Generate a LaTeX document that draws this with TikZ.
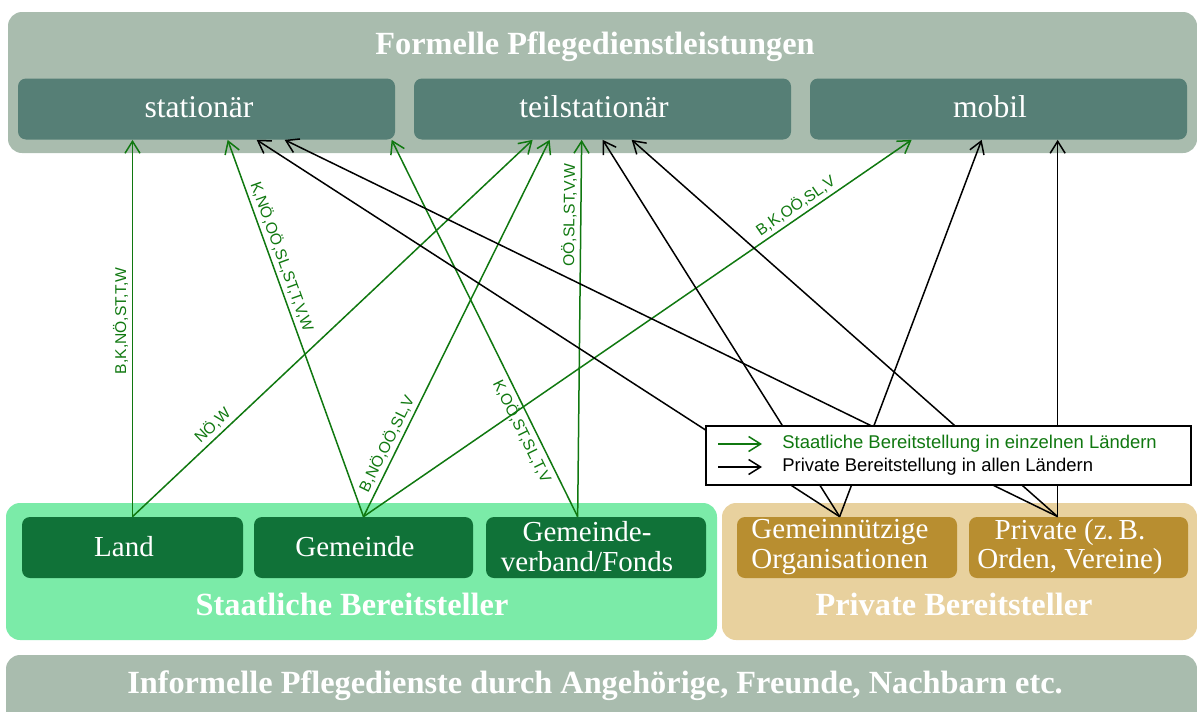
\documentclass[tikz,border=0pt]{standalone}
\usepackage{fontspec}
\setmainfont{Liberation Serif}
\newfontfamily\labelfont{Liberation Sans}
\usetikzlibrary{arrows.meta,calc}
\definecolor{formgrey}{RGB}{169,188,174}
\definecolor{formteal}{RGB}{86,127,118}
\definecolor{staatbg}{RGB}{123,235,168}
\definecolor{staatbox}{RGB}{16,114,56}
\definecolor{privbg}{RGB}{232,209,158}
\definecolor{privbox}{RGB}{184,142,48}
\definecolor{pgreen}{RGB}{16,120,16}
\newlength\pxu
\setlength\pxu{0.2mm}
\tikzset{
  groupbox/.style={rounded corners=14\pxu, inner sep=0pt},
  unitbox/.style={rounded corners=8\pxu, inner sep=0pt, minimum height=61\pxu},
  unittext/.style={text=white, inner sep=0pt, align=center, font=\fontsize{16.5}{17}\selectfont},
  toptext/.style={text=white, inner sep=0pt, font=\fontsize{18}{20}\selectfont},
  grouptitle/.style={text=white, inner sep=0pt, font=\fontsize{18.4}{20}\selectfont\bfseries},
  greenarrow/.style={-{Straight Barb[length=2.4mm,width=3mm]}, draw=pgreen, line width=0.3mm},
  blackarrow/.style={-{Straight Barb[length=2.4mm,width=3mm]}, draw=black, line width=0.3mm},
  arrowlabel/.style={text=pgreen, sloped, inner sep=2pt, font=\labelfont\fontsize{8.9}{9}\selectfont},
  legendtext/.style={inner sep=0pt, anchor=west, font=\labelfont\fontsize{10.5}{12}\selectfont}
}
\begin{document}
\begin{tikzpicture}[x=0.2mm, y=-0.2mm]
\useasboundingbox (0,0) rectangle (1197,711);
\clip (0,0) rectangle (1197,711);

\node[groupbox, fill=formgrey, minimum width=1189\pxu, minimum height=141\pxu] (formell) at (602.5,82.5) {};
\node[grouptitle] (formelltitle) at (595,47) {Formelle Pflegedienstleistungen};
\node[unitbox, fill=formteal, minimum width=377\pxu] (stat) at (206.5,109) {};
\node[unitbox, fill=formteal, minimum width=377\pxu] (teil) at (602.5,109) {};
\node[unitbox, fill=formteal, minimum width=377\pxu] (mobil) at (998.5,109) {};
\node[toptext] (stattext) at (199,107) {stationär};
\node[toptext] (teiltext) at (594,107) {teilstationär};
\node[toptext] (mobiltext) at (990,107) {mobil};

\node[groupbox, fill=staatbg, minimum width=711\pxu, minimum height=137\pxu] (staat) at (361.5,571.5) {};
\node[grouptitle] (staattitle) at (352,604) {Staatliche Bereitsteller};
\node[unitbox, fill=staatbox, minimum width=221\pxu] (land) at (132.5,547.5) {};
\node[unitbox, fill=staatbox, minimum width=219\pxu] (gemeinde) at (363.5,547.5) {};
\node[unitbox, fill=staatbox, minimum width=220\pxu] (verband) at (596,547.5) {};
\node[unittext] (landtext) at (124,547) {Land};
\node[unittext] (gemeindetext) at (355,547) {Gemeinde};
\node[unittext] (verbandtext) at (587,547) {Gemeinde-\\verband/Fonds};

\node[groupbox, fill=privbg, minimum width=475\pxu, minimum height=137\pxu] (privat) at (959.5,571.5) {};
\node[grouptitle] (privattitle) at (954,604) {Private Bereitsteller};
\node[unitbox, fill=privbox, minimum width=220\pxu] (gemn) at (847,547.5) {};
\node[unitbox, fill=privbox, minimum width=219\pxu] (orden) at (1078.5,547.5) {};
\node[unittext, align=left] (gemntext) at (840,547) {Gemeinnützige\\Organisationen};
\node[unittext] (ordentext) at (1070,547) {Private (z.\,B.\\Orden, Vereine)};

\node[groupbox, fill=formgrey, minimum width=1191\pxu, minimum height=76\pxu] (informell) at (601.5,693) {};
\node[grouptitle] (informelltitle) at (595,686) {Informelle Pflegedienste durch Angehörige, Freunde, Nachbarn etc.};

\coordinate (verbandtop) at ($(verband.north west)+(92,0)$);
\coordinate (gemntop) at ($(gemn.north west)+(103,0)$);
\coordinate (ordentop) at ($(orden.north west)+(89,0)$);

\draw[greenarrow] (land.north) -- (land.north |- stat.south) node[arrowlabel, above, pos=0.52] {B,K,NÖ,ST,T,W};
\draw[greenarrow] (land.north) -- ($(teil.south west)+(119,0)$) node[arrowlabel, above, pos=0.22] {NÖ,W};
\draw[greenarrow] (gemeinde.north) -- ($(stat.south west)+(210,0)$) node[arrowlabel, above, pos=0.68] {K,NÖ,OÖ,SL,ST,T,V,W};
\draw[greenarrow] (gemeinde.north) -- ($(teil.south west)+(136,0)$) node[arrowlabel, above, pos=0.18] {B,NÖ,OÖ,SL,V};
\draw[greenarrow] (gemeinde.north) -- ($(mobil.south west)+(102,0)$) node[arrowlabel, above, pos=0.8] {B,K,OÖ,SL,V};
\draw[greenarrow] (verbandtop) -- ($(stat.south west)+(374,0)$) node[arrowlabel, below, pos=0.24] {K,OÖ,ST,SL,T,V};
\draw[greenarrow] (verbandtop) -- ($(teil.south west)+(168,0)$) node[arrowlabel, above, pos=0.8] {OÖ,SL,ST,V,W};

\draw[blackarrow] (gemntop) -- ($(stat.south west)+(239,0)$);
\draw[blackarrow] (gemntop) -- ($(teil.south west)+(189,0)$);
\draw[blackarrow] (gemntop) -- ($(mobil.south west)+(172,0)$);
\draw[blackarrow] (ordentop) -- ($(stat.south west)+(267,0)$);
\draw[blackarrow] (ordentop) -- ($(teil.south west)+(218,0)$);
\draw[blackarrow] (ordentop) -- ($(mobil.south west)+(248,0)$);

\node[draw=black, fill=white, line width=0.25mm, inner sep=0pt, minimum width=485\pxu, minimum height=59\pxu] (legend) at (948.5,455.5) {};
\node[legendtext, text=pgreen] (leg1) at (782,444) {Staatliche Bereitstellung in einzelnen Ländern};
\node[legendtext] (leg2) at (782,467) {Private Bereitstellung in allen Ländern};
\coordinate (leg1s) at (718,444);
\coordinate (leg2s) at (718,467);
\draw[greenarrow] (leg1s) -- ([xshift=-20\pxu]leg1.west);
\draw[blackarrow] (leg2s) -- ([xshift=-20\pxu]leg2.west);
\end{tikzpicture}
\end{document}
